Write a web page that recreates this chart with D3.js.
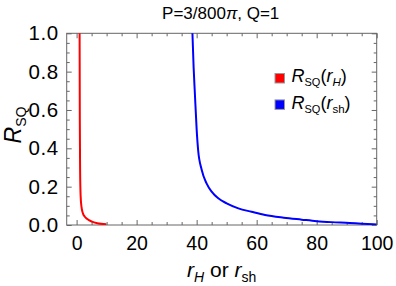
<!DOCTYPE html>
<html><head><meta charset="utf-8">
<script src="https://cdn.jsdelivr.net/npm/d3@7"></script>
<style>
html,body{margin:0;padding:0;background:#fff;}
svg{display:block;font-family:"Liberation Sans",Arial,sans-serif;}
</style></head>
<body>
<svg id="chart" width="396" height="286"></svg>
<script>
// ---- data ----
const redR  = [1.0, 1.07, 1.17, 1.33, 1.63, 2.06, 2.73, 3.56, 4.9, 6.9, 9.9];
const redY  = [1.0, 0.548, 0.287, 0.156, 0.094, 0.063, 0.043, 0.031, 0.019, 0.009, 0.004];
const blueR = [38.6, 39.0, 39.4, 40.0, 40.5, 41.7, 43.3, 45, 47.2, 50, 53.9, 58.3, 62.8, 69, 75, 80, 85, 91, 95, 100];
const blueY = [1.0, 0.82, 0.69, 0.5, 0.39, 0.287, 0.217, 0.174, 0.139, 0.113, 0.087, 0.069, 0.052, 0.038, 0.028, 0.02, 0.015, 0.011, 0.007, 0.003];
const xTicks = [0, 20, 40, 60, 80, 100];
const yTicks = [0.0, 0.2, 0.4, 0.6, 0.8, 1.0];
const xDomain = [-3.3, 100];
const yDomain = [0, 1];

// ---- layout ----
const L = 66.7, R = 376.7, T = 33.3, B = 225;
const svg = d3.select("#chart");
const x = d3.scaleLinear().domain(xDomain).range([L, R]);
const y = d3.scaleLinear().domain(yDomain).range([B, T]);
const frameCol = "#666";

svg.append("defs").append("clipPath").attr("id","clip")
  .append("rect").attr("x",L).attr("y",T-1).attr("width",R-L).attr("height",B-T+1);

const xMinor = d3.range(5, 100, 5).filter(v => v % 20 !== 0);
const yMinor = d3.range(0.05, 1.0, 0.05).filter(v => Math.abs(v*5 - Math.round(v*5)) > 1e-6);

function styleAxis(fs, ls){
  return g => {
    g.select(".domain").remove();
    g.selectAll(".tick line").attr("stroke", frameCol).attr("stroke-width", 1);
    g.selectAll(".tick text").attr("fill","#000").attr("font-size", fs).attr("letter-spacing", ls);
  };
}
// bottom
svg.append("g").attr("transform",`translate(0,${B})`)
  .call(d3.axisBottom(x).tickValues(xTicks).tickSize(-5).tickPadding(11).tickFormat(d3.format("d")))
  .call(styleAxis(19.5, 0));
svg.append("g").attr("transform",`translate(0,${B})`)
  .call(d3.axisBottom(x).tickValues(xMinor).tickSize(-3).tickFormat(""))
  .call(styleAxis(19, 0));
// top
svg.append("g").attr("transform",`translate(0,${T})`)
  .call(d3.axisTop(x).tickValues(xTicks).tickSize(-5).tickFormat(""))
  .call(styleAxis(19, 0));
svg.append("g").attr("transform",`translate(0,${T})`)
  .call(d3.axisTop(x).tickValues(xMinor).tickSize(-3).tickFormat(""))
  .call(styleAxis(19, 0));
// left
svg.append("g").attr("transform",`translate(${L},0)`)
  .call(d3.axisLeft(y).tickValues(yTicks).tickSize(-5).tickPadding(8).tickFormat(d3.format(".1f")))
  .call(styleAxis(20.5, 0.6));
svg.append("g").attr("transform",`translate(${L},0)`)
  .call(d3.axisLeft(y).tickValues(yMinor).tickSize(-3).tickFormat(""))
  .call(styleAxis(19, 0));
// right
svg.append("g").attr("transform",`translate(${R},0)`)
  .call(d3.axisRight(y).tickValues(yTicks).tickSize(-5).tickFormat(""))
  .call(styleAxis(19, 0));
svg.append("g").attr("transform",`translate(${R},0)`)
  .call(d3.axisRight(y).tickValues(yMinor).tickSize(-3).tickFormat(""))
  .call(styleAxis(19, 0));

// frame
svg.append("rect").attr("x",L).attr("y",T).attr("width",R-L).attr("height",B-T)
  .attr("fill","none").attr("stroke",frameCol).attr("stroke-width",1);

// curves
const line = d3.line().x(d => x(d[0])).y(d => y(d[1])).curve(d3.curveMonotoneX);
const plot = svg.append("g").attr("clip-path","url(#clip)");
plot.append("path").datum(redR.map((r,i)=>[r, redY[i]]))
  .attr("d", line).attr("fill","none").attr("stroke","#ff0000").attr("stroke-width",2);
plot.append("path").datum(blueR.map((r,i)=>[r, blueY[i]]))
  .attr("d", line).attr("fill","none").attr("stroke","#0000ff").attr("stroke-width",2);

// title
const title = svg.append("text").attr("x",(L+R)/2 - 1).attr("y",18.5)
  .attr("text-anchor","middle").attr("font-size",17).attr("fill","#000");
title.append("tspan").text("P=3/800");
title.append("tspan").attr("font-style","italic").text("π");
title.append("tspan").text(", Q=1");

// x label
const xl = svg.append("text").attr("x",(L+R)/2).attr("y",277)
  .attr("text-anchor","middle").attr("font-size",21).attr("fill","#000");
xl.append("tspan").attr("font-style","italic").text("r");
xl.append("tspan").attr("font-style","italic").attr("font-size",14).attr("dy",5).text("H");
xl.append("tspan").attr("dy",-5).text(" or ");
xl.append("tspan").attr("font-style","italic").text("r");
xl.append("tspan").attr("font-size",14).attr("dy",5).text("sh");

// y label
const yl = svg.append("text").attr("transform",`translate(21,125) rotate(-90)`)
  .attr("text-anchor","middle").attr("font-size",23).attr("fill","#000");
yl.append("tspan").attr("font-style","italic").text("R");
yl.append("tspan").attr("font-size",14).attr("dy",5).text("SQ");

// legend
const legendItems = [
  {color:"#ff0000", sub:"H", subItalic:true},
  {color:"#0000ff", sub:"sh", subItalic:false}
];
const lg = svg.append("g");
legendItems.forEach((it, i) => {
  const yy = 78.3 + i*26.4;
  lg.append("rect").attr("x",275).attr("y",yy-4.8).attr("width",9.5).attr("height",9.5)
    .attr("fill",it.color).attr("stroke","#999").attr("stroke-width",1);
  const t = lg.append("text").attr("x",291.5).attr("y",yy+3.8).attr("font-size",18).attr("fill","#000");
  t.append("tspan").attr("font-style","italic").text("R");
  t.append("tspan").attr("font-size",11).attr("dy",4).text("SQ");
  t.append("tspan").attr("dy",-4).text("(");
  t.append("tspan").attr("font-style","italic").text("r");
  t.append("tspan").attr("font-size",11.5).attr("dy",4).attr("font-style", it.subItalic ? "italic" : "normal").text(it.sub);
  t.append("tspan").attr("dy",-4).text(")");
});
</script>
</body></html>
